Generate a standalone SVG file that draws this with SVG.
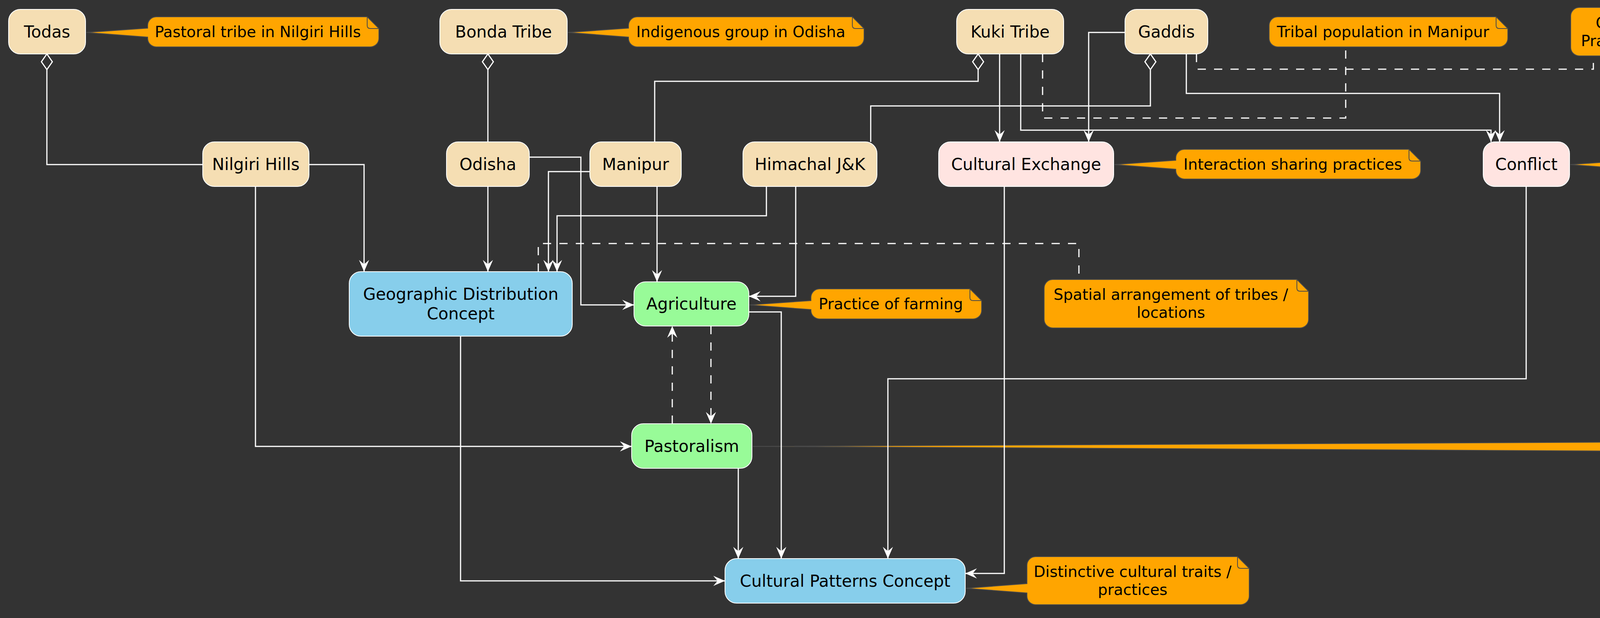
<svg xmlns="http://www.w3.org/2000/svg" width="4747" height="1581" viewBox="0 0 4747 1581">
<style>
.bg{fill:#333333}
.box{stroke:#ffffff;stroke-width:2}
.tribe{fill:#F5DEB3}
.rel{fill:#FFE4E1}
.concept{fill:#87CEEB}
.prac{fill:#98FB98}
.lbl{font-family:"DejaVu Sans",Verdana,sans-serif;font-size:42px;fill:#000000;text-anchor:middle}
.ntxt{font-family:"DejaVu Sans",Verdana,sans-serif;font-size:39px;fill:#000000;text-anchor:middle}
.note{fill:#FFA500;stroke:#4a4a4a;stroke-width:2}
.fold{fill:none;stroke:#4a4a4a;stroke-width:2}
.c{fill:none;stroke:#ffffff;stroke-width:3}
.d{stroke-dasharray:21 21}
.a{marker-end:url(#arr)}
.o{marker-start:url(#dia)}
</style>
<defs>
<marker id="arr" markerUnits="userSpaceOnUse" viewBox="-32 -16 34 32" markerWidth="34" markerHeight="32" refX="0" refY="0" orient="auto">
<path d="M0,0 L-30,-13 L-19,0 L-30,13 Z" fill="#ffffff"/>
</marker>
<marker id="dia" markerUnits="userSpaceOnUse" viewBox="-3 -17 46 34" markerWidth="46" markerHeight="34" refX="0" refY="0" orient="auto">
<path d="M0,0 L20,-14 L40,0 L20,14 Z" fill="#333333" stroke="#ffffff" stroke-width="3"/>
</marker>
</defs>
<rect class="bg" x="0" y="0" width="4747" height="1581"/>

<g id="nodes">
<g id="todas"><rect class="box tribe" x="22" y="24" width="197" height="114" rx="30"/><text class="lbl" x="120.5" y="96">Todas</text></g>
<g id="bonda"><rect class="box tribe" x="1126" y="24" width="326" height="114" rx="30"/><text class="lbl" x="1289" y="96">Bonda Tribe</text></g>
<g id="kuki"><rect class="box tribe" x="2449" y="24" width="274" height="114" rx="30"/><text class="lbl" x="2586" y="96">Kuki Tribe</text></g>
<g id="gaddis"><rect class="box tribe" x="2880" y="24" width="212" height="114" rx="30"/><text class="lbl" x="2986" y="96">Gaddis</text></g>
<g id="nilgiri"><rect class="box tribe" x="519" y="363" width="272" height="114" rx="30"/><text class="lbl" x="655" y="435">Nilgiri Hills</text></g>
<g id="odisha"><rect class="box tribe" x="1143" y="363" width="212" height="114" rx="30"/><text class="lbl" x="1249" y="435">Odisha</text></g>
<g id="manipur"><rect class="box tribe" x="1510" y="363" width="234" height="114" rx="30"/><text class="lbl" x="1627" y="435">Manipur</text></g>
<g id="himachal"><rect class="box tribe" x="1902" y="363" width="343" height="114" rx="30"/><text class="lbl" x="2073.5" y="435">Himachal J&amp;K</text></g>
<g id="exchange"><rect class="box rel" x="2403" y="363" width="448" height="114" rx="30"/><text class="lbl" x="2627" y="435">Cultural Exchange</text></g>
<g id="conflict"><rect class="box rel" x="3797" y="363" width="221" height="114" rx="30"/><text class="lbl" x="3907.5" y="435">Conflict</text></g>
<g id="geo"><rect class="box concept" x="894" y="695" width="571" height="165" rx="30"/><text class="lbl" x="1179.5" y="767">Geographic Distribution</text><text class="lbl" x="1179.5" y="817">Concept</text></g>
<g id="agri"><rect class="box prac" x="1623" y="721" width="294" height="113" rx="30"/><text class="lbl" x="1770" y="792">Agriculture</text></g>
<g id="pastoral"><rect class="box prac" x="1617" y="1084" width="308" height="114" rx="30"/><text class="lbl" x="1771" y="1156">Pastoralism</text></g>
<g id="patterns"><rect class="box concept" x="1856" y="1429" width="615" height="114" rx="30"/><text class="lbl" x="2163.5" y="1501">Cultural Patterns Concept</text></g>
</g>

<g id="notes">
<g id="note-todas"><path class="note" d="M400,43 H940 L970,73 V98 A22,22 0 0 1 948,120 H400 A22,22 0 0 1 378,98 V95 L221,83 L378,72 V65 A22,22 0 0 1 400,43 Z"/><path class="fold" d="M940,43 V65 Q940,73 948,73 H970"/><text class="ntxt" x="660" y="95">Pastoral tribe in Nilgiri Hills</text></g>
<g id="note-bonda"><path class="note" d="M1631,43 H2182 L2212,73 V98 A22,22 0 0 1 2190,120 H1631 A22,22 0 0 1 1609,98 V95 L1454,83 L1609,72 V65 A22,22 0 0 1 1631,43 Z"/><path class="fold" d="M2182,43 V65 Q2182,73 2190,73 H2212"/><text class="ntxt" x="1896.5" y="95">Indigenous group in Odisha</text></g>
<g id="note-kuki"><path class="note" d="M3271,43 H3830 L3860,73 V98 A22,22 0 0 1 3838,120 H3271 A22,22 0 0 1 3249,98 V65 A22,22 0 0 1 3271,43 Z"/><path class="fold" d="M3830,43 V65 Q3830,73 3838,73 H3860"/><text class="ntxt" x="3540.5" y="95">Tribal population in Manipur</text></g>
<g id="note-gaddis"><path class="note" d="M4043,19 H4616 L4646,49 V121 A22,22 0 0 1 4624,143 H4043 A22,22 0 0 1 4021,121 V41 A22,22 0 0 1 4043,19 Z"/><path class="fold" d="M4616,19 V41 Q4616,49 4624,49 H4646"/><text class="ntxt" x="4319.5" y="72">Community in Himachal</text><text class="ntxt" x="4319.5" y="118">Pradesh / Jammu &amp; Kashmir</text></g>
<g id="note-exchange"><path class="note" d="M3032,382 H3607 L3637,412 V436 A22,22 0 0 1 3615,458 H3032 A22,22 0 0 1 3010,436 V433 L2853,421 L3010,410 V404 A22,22 0 0 1 3032,382 Z"/><path class="fold" d="M3607,382 V404 Q3607,412 3615,412 H3637"/><text class="ntxt" x="3309.5" y="434">Interaction sharing practices</text></g>
<g id="note-conflict"><path class="note" d="M4200,382 H4678 L4708,412 V436 A22,22 0 0 1 4686,458 H4200 A22,22 0 0 1 4178,436 V433 L4020,421 L4178,410 V404 A22,22 0 0 1 4200,382 Z"/><path class="fold" d="M4678,382 V404 Q4678,412 4686,412 H4708"/><text class="ntxt" x="4429" y="434">Disagreement / dispute</text></g>
<g id="note-agri"><path class="note" d="M2098,739 H2483 L2513,769 V794 A22,22 0 0 1 2491,816 H2098 A22,22 0 0 1 2076,794 V792 L1919,780 L2076,769 V761 A22,22 0 0 1 2098,739 Z"/><path class="fold" d="M2483,739 V761 Q2483,769 2491,769 H2513"/><text class="ntxt" x="2280.5" y="791">Practice of farming</text></g>
<g id="note-geo"><path class="note" d="M2695,715 H3320 L3350,745 V817 A22,22 0 0 1 3328,839 H2695 A22,22 0 0 1 2673,817 V737 A22,22 0 0 1 2695,715 Z"/><path class="fold" d="M3320,715 V737 Q3320,745 3328,745 H3350"/><text class="ntxt" x="2997.5" y="767">Spatial arrangement of tribes /</text><text class="ntxt" x="2997.5" y="813">locations</text></g>
<g id="note-pastoral"><path class="note" d="M4168,1079 H4683 L4713,1109 V1181 A22,22 0 0 1 4691,1203 H4168 A22,22 0 0 1 4146,1181 V1154 L1927,1142 L4146,1131 V1101 A22,22 0 0 1 4168,1079 Z"/><path class="fold" d="M4683,1079 V1101 Q4683,1109 4691,1109 H4713"/><text class="ntxt" x="4415.5" y="1131">Lifestyle based on raising</text><text class="ntxt" x="4415.5" y="1177">livestock</text></g>
<g id="note-patterns"><path class="note" d="M2651,1424 H3168 L3198,1454 V1525 A22,22 0 0 1 3176,1547 H2651 A22,22 0 0 1 2629,1525 V1517 L2473,1505 L2629,1493 V1446 A22,22 0 0 1 2651,1424 Z"/><path class="fold" d="M3168,1424 V1446 Q3168,1454 3176,1454 H3198"/><text class="ntxt" x="2899.5" y="1476">Distinctive cultural traits /</text><text class="ntxt" x="2899.5" y="1522">practices</text></g>
</g>

<g id="connectors">
<path class="c o" d="M120,138 V421 H519"/>
<path class="c o" d="M1249,138 V363"/>
<path class="c o" d="M2504,138 V208 H1676 V363"/>
<path class="c o" d="M2945,138 V271 H2229 V363"/>
<path class="c a" d="M2559,138 V363"/>
<path class="c a" d="M2880,83 H2787 V363"/>
<path class="c a" d="M2613,138 V333 H3817 V363"/>
<path class="c a" d="M3037,138 V239 H3839 V363"/>
<path class="c d" d="M2669,138 V302 H3445 V120"/>
<path class="c d" d="M3063,138 V177 H4079 V143"/>
<path class="c a" d="M791,421 H932 V695"/>
<path class="c a" d="M654,477 V1142 H1617"/>
<path class="c a" d="M1249,477 V695"/>
<path class="c a" d="M1355,402 H1487 V780 H1623"/>
<path class="c a" d="M1510,439 H1404 V695"/>
<path class="c a" d="M1682,477 V721"/>
<path class="c a" d="M1962,477 V552 H1426 V695"/>
<path class="c a" d="M2037,477 V758 H1917"/>
<path class="c d" d="M1378,695 V623 H2762 V715"/>
<path class="c d a" d="M1721,1084 V834"/>
<path class="c d a" d="M1820,834 V1084"/>
<path class="c a" d="M1917,798 H2000 V1429"/>
<path class="c a" d="M1890,1198 V1429"/>
<path class="c a" d="M1179,860 V1486 H1856"/>
<path class="c a" d="M2571,477 V1467 H2471"/>
<path class="c a" d="M3907,477 V969 H2273 V1429"/>
</g>
</svg>
